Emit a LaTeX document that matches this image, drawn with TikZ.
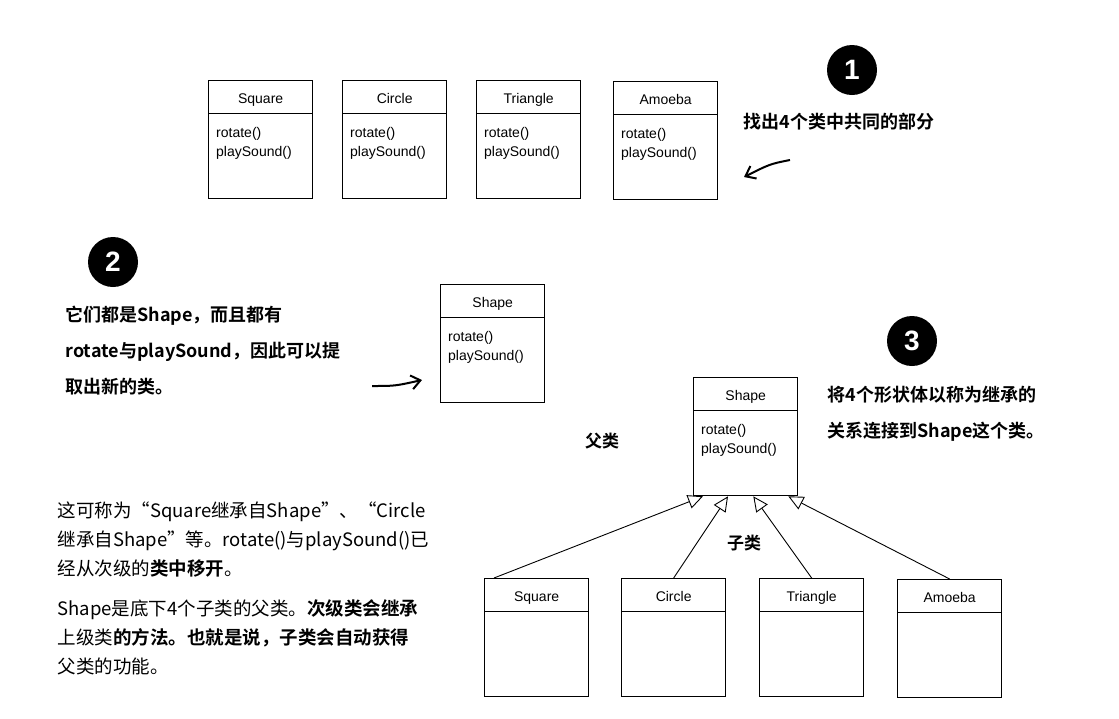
\documentclass[tikz,border=0pt]{standalone}
\usepackage{fontspec}
\setmainfont{Liberation Sans}
\newfontfamily\cjk{Noto Sans CJK SC}
\newfontfamily\cjkb{Noto Sans CJK SC Bold}
\usetikzlibrary{arrows.meta}
\tikzset{
 cls/.style={draw,line width=1.3pt,minimum width=104pt,minimum height=118pt,anchor=north west},
 hd/.style={font=\fontsize{14}{15}\selectfont,anchor=base},
 mt/.style={font=\fontsize{14}{19}\selectfont,align=left,anchor=north west,inner sep=1pt},
 num/.style={circle,fill=black,text=white,minimum size=50pt,font=\bfseries\fontsize{28}{28}\selectfont},
 hand/.style={font=\cjkb\fontsize{18}{36}\selectfont,align=left,anchor=north west},
 inh/.style={-{Triangle[open,length=15pt,width=14pt]},line width=0.9pt},
 harr/.style={-{Straight Barb[length=9pt,width=14pt]},line width=2pt}
}
\newcommand{\umlbox}[5]{%
 \node[cls] (#1) at (#2,#3) {};
 \draw[line width=1pt] ([yshift=-33pt]#1.north west) -- ([yshift=-33pt]#1.north east);
 \node[hd] at ([yshift=-23pt]#1.north) {#4};
 \node[mt] at ([xshift=7pt,yshift=-46pt]#1.north west) {#5};}
\begin{document}
\begin{tikzpicture}[x=1pt,y=-1pt]
\useasboundingbox (0,0) rectangle (1119,718);
\umlbox{s1}{208}{80}{Square}{rotate()\\playSound()}
\umlbox{c1}{342}{80}{Circle}{rotate()\\playSound()}
\umlbox{t1}{476}{80}{Triangle}{rotate()\\playSound()}
\umlbox{a1}{613}{81}{Amoeba}{rotate()\\playSound()}
\umlbox{sh2}{440}{284}{Shape}{rotate()\\playSound()}
\umlbox{sh3}{693}{377}{Shape}{rotate()\\playSound()}
\umlbox{s3}{484}{578}{Square}{}
\umlbox{c3}{621}{578}{Circle}{}
\umlbox{t3}{759}{578}{Triangle}{}
\umlbox{a3}{897}{579}{Amoeba}{}
\node[num] (n1) at (852,70) {1};
\node[num] (n2) at (113,262) {2};
\node[num] (n3) at (912,341) {3};
\node[hand] (t1txt) at (740,110) {找出4个类中共同的部分};
\coordinate (h1a) at (790,160);
\coordinate (h1b) at (744,177);
\draw[harr] (h1a) .. controls (770,164) .. (h1b);
\node[hand] (t2txt) at (62,302) {它们都是Shape，而且都有\\rotate与playSound，因此可以提\\取出新的类。};
\coordinate (h2a) at (372,386);
\coordinate (h2b) at (422,380);
\draw[harr] (h2a) .. controls (395,386) .. (h2b);
\node[hand] (t3txt) at (824,383) {将4个形状体以称为继承的\\关系连接到Shape这个类。};
\node[font=\cjkb\fontsize{17}{18}\selectfont] (fl) at (602,441) {父类};
\node[font=\cjkb\fontsize{17}{18}\selectfont] (zl) at (744,543) {子类};
\draw[inh] ([xshift=10pt]s3.north west) -- ([xshift=10pt]sh3.south west);
\draw[inh] (c3.north) -- ([xshift=35pt]sh3.south west);
\draw[inh] (t3.north) -- ([xshift=-45pt]sh3.south east);
\draw[inh] (a3.north) -- ([xshift=-10pt]sh3.south east);
\node[font=\cjk\fontsize{18.5}{29}\selectfont,align=left,anchor=north west] (p1) at (54,498) {这可称为“Square继承自Shape”、“Circle\\继承自Shape”等。rotate()与playSound()已\\经从次级的{\cjkb 类中移开}。};
\node[font=\cjk\fontsize{18.5}{29}\selectfont,align=left,anchor=north west] (p2) at (54,596) {Shape是底下4个子类的父类。{\cjkb 次级类会继承}\\上级类{\cjkb 的方法。也就是说，子类会自动获得}\\父类的功能。};
\end{tikzpicture}
\end{document}
